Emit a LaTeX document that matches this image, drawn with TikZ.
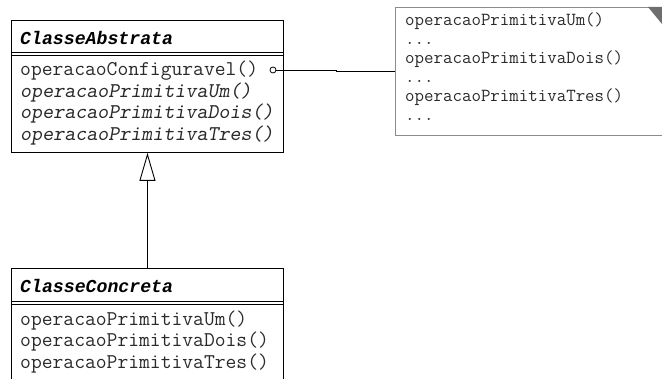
\documentclass[tikz,border=0pt]{standalone}
\usepackage{fontspec}
\newfontfamily\negrito{Liberation Mono}
\usetikzlibrary{positioning,arrows.meta}

\definecolor{texto}{HTML}{2A2A2A}
\definecolor{borda}{HTML}{8C8C8C}
\definecolor{dobra}{HTML}{6E6E6E}

\begin{document}
\begin{tikzpicture}[x=1pt,y=-1pt,
  classe/.style={draw, line width=0.9pt, anchor=north west, minimum width=272pt, inner sep=0pt},
  titulo/.style={anchor=base west, inner sep=0pt, font=\fontsize{18.2}{22}\selectfont\negrito\bfseries\itshape},
  oper/.style={anchor=base west, inner sep=0pt, text=texto, font=\fontsize{21}{24}\selectfont\ttfamily},
  abst/.style={oper, font=\fontsize{21}{24}\selectfont\ttfamily\slshape},
  nota/.style={draw=borda, line width=0.9pt, anchor=north west, minimum width=267pt, minimum height=128pt, inner sep=0pt},
  linha/.style={anchor=base west, inner sep=0pt, text=texto, font=\fontsize{18.4}{20}\selectfont\ttfamily},
  heranca/.style={line width=0.9pt, -{Triangle[open, length=28pt, width=16pt]}}]
\clip (0,0) rectangle (662,379);
\node[classe, minimum height=132pt] (abstrata) at (11,20) {};
\node[classe, minimum height=130pt] (concreta) at (11,268) {};
\node[nota] (nota) at (395,7) {};
\fill[dobra] (648,7) -- (662,7) -- (662,24) -- cycle;
\draw[line width=0.9pt] (11,52) -- (283,52);
\draw[line width=0.9pt] (11,55) -- (283,55);
\draw[line width=0.9pt] (11,301) -- (283,301);
\draw[line width=0.9pt] (11,304) -- (283,304);
\node[titulo] (tabs) at (20,45) {ClasseAbstrata};
\node[oper] (conf) at (20,76) {operacaoConfiguravel()};
\node[abst] (aum) at (20,97.5) {operacaoPrimitivaUm()};
\node[abst] (adois) at (20,119) {operacaoPrimitivaDois()};
\node[abst] (atres) at (20,140.5) {operacaoPrimitivaTres()};
\node[titulo] (tcon) at (20,293) {ClasseConcreta};
\node[oper] (cum) at (20,325.5) {operacaoPrimitivaUm()};
\node[oper] (cdois) at (20,347) {operacaoPrimitivaDois()};
\node[oper] (ctres) at (20,368.5) {operacaoPrimitivaTres()};
\node[linha] (num) at (405,26) {operacaoPrimitivaUm()};
\node[linha] (p1) at (405,45) {...};
\node[linha] (ndois) at (405,64) {operacaoPrimitivaDois()};
\node[linha] (p2) at (405,83) {...};
\node[linha] (ntres) at (405,102) {operacaoPrimitivaTres()};
\node[linha] (p3) at (405,121) {...};
\node[circle, draw, line width=0.8pt, inner sep=0pt, minimum size=6pt] (gancho) at (273,70) {};
\coordinate (degrau) at (336,70);
\draw[line width=0.9pt] (gancho.east) -- (degrau) |- (nota.west);
\draw[heranca] (concreta.north) -- (abstrata.south);
\end{tikzpicture}
\end{document}
